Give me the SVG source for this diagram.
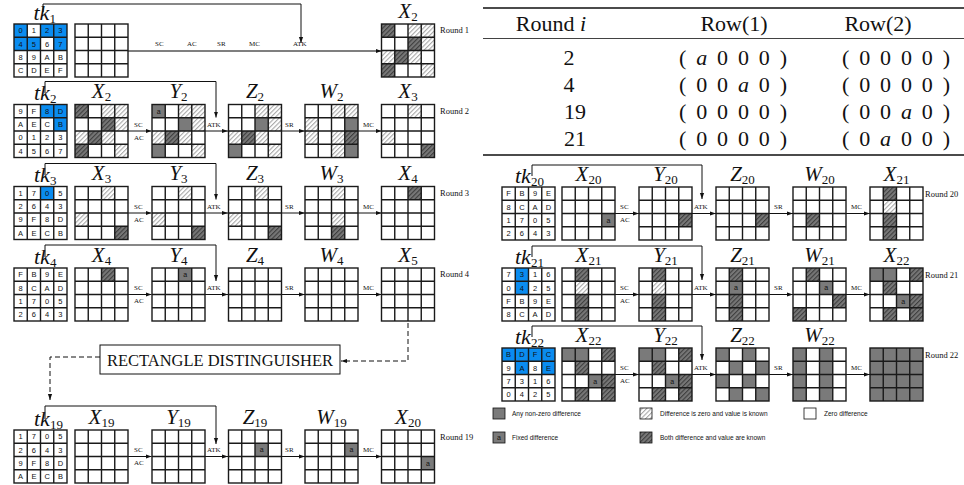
<svg xmlns="http://www.w3.org/2000/svg" xmlns:xlink="http://www.w3.org/1999/xlink" width="964" height="485" viewBox="0 0 964 485">
<defs>
<pattern id="lhp" width="3.2" height="3.2" patternUnits="userSpaceOnUse" patternTransform="rotate(45)"><rect width="3.2" height="3.2" fill="#fff"/><rect width="1.1" height="3.2" fill="#a8a8a8"/></pattern>
<pattern id="dhp" width="3.2" height="3.2" patternUnits="userSpaceOnUse" patternTransform="rotate(45)"><rect width="3.2" height="3.2" fill="#777"/><rect width="1.1" height="3.2" fill="#3e3e3e"/></pattern>
<g id="gr"><rect width="53" height="53"/><path d="M13.25 0V53M26.5 0V53M39.75 0V53M0 13.25H53M0 26.5H53M0 39.75H53"/></g>
<marker id="ah" viewBox="0 0 10 10" refX="10" refY="5" markerWidth="6" markerHeight="6" orient="auto" markerUnits="userSpaceOnUse"><path d="M0,1.5L10,5L0,8.5z" fill="#111"/></marker>
</defs>
<style>
#gr{fill:none;stroke:#1a1a1a;stroke-width:1.4}
.w{fill:#fff}
.g{fill:#7a7a7a}
.lh{fill:url(#lhp)}
.dh{fill:url(#dhp)}
.b{fill:#0a8cf0}
.hx{font-family:'Liberation Sans',sans-serif;font-size:7.5px;text-anchor:middle;fill:#111}
.a{font-family:'Liberation Sans',sans-serif;font-size:7px;text-anchor:middle;fill:#111}
.ma{font-family:'Liberation Serif',serif;font-style:italic;font-size:21px;fill:#111}
.tk{font-size:22px}
.sb{font-style:normal;font-size:13px}
.ctr{text-anchor:middle}
.op{font-family:'Liberation Serif',serif;font-size:7px;fill:#111}
.rd{font-family:'Liberation Serif',serif;font-size:8.5px;fill:#111}
.ln{fill:none;stroke:#111;stroke-width:1}
.dl{fill:none;stroke:#111;stroke-width:1;stroke-dasharray:5 3}
.tb{font-family:'Liberation Serif',serif;font-size:22px;fill:#111}
.lg{font-family:'Liberation Sans',sans-serif;font-size:6.5px;fill:#111}
.bx{fill:#fff;stroke:#111;stroke-width:1}
</style>

<!-- connectors -->
<g id="connectors">
<path class="ln" d="M43,12V4H301V43" marker-end="url(#ah)"/>
<path d="M128,51H381.5" fill="none" stroke="#555" stroke-width="1.6" marker-end="url(#ah)"/>
<g class="op"><text x="155" y="46">SC</text><text x="187" y="46">AC</text><text x="217" y="46">SR</text><text x="249" y="46">MC</text><text x="293" y="46">ATK</text></g>

<path class="ln" d="M45,93V81.5H216V117.5" marker-end="url(#ah)"/>
<path class="ln" d="M128,131H151.5" marker-end="url(#ah)"/>
<path class="ln" d="M205,131H228" marker-end="url(#ah)"/>
<path class="ln" d="M281.5,131H305" marker-end="url(#ah)"/>
<path class="ln" d="M358,131H381.5" marker-end="url(#ah)"/>
<g class="op"><text x="134" y="127">SC</text><text x="134" y="140">AC</text><text x="207" y="127">ATK</text><text x="285" y="127">SR</text><text x="363" y="127">MC</text></g>

<path class="ln" d="M45,175V163.5H216V199.5" marker-end="url(#ah)"/>
<path class="ln" d="M128,213H151.5" marker-end="url(#ah)"/>
<path class="ln" d="M205,213H228" marker-end="url(#ah)"/>
<path class="ln" d="M281.5,213H305" marker-end="url(#ah)"/>
<path class="ln" d="M358,213H381.5" marker-end="url(#ah)"/>
<g class="op"><text x="134" y="209">SC</text><text x="134" y="222">AC</text><text x="207" y="209">ATK</text><text x="285" y="209">SR</text><text x="363" y="209">MC</text></g>

<path class="ln" d="M45,257V245H216V281" marker-end="url(#ah)"/>
<path class="ln" d="M128,294.5H151.5" marker-end="url(#ah)"/>
<path class="ln" d="M205,294.5H228" marker-end="url(#ah)"/>
<path class="ln" d="M281.5,294.5H305" marker-end="url(#ah)"/>
<path class="ln" d="M358,294.5H381.5" marker-end="url(#ah)"/>
<g class="op"><text x="134" y="290">SC</text><text x="134" y="303">AC</text><text x="207" y="290">ATK</text><text x="285" y="290">SR</text><text x="363" y="290">MC</text></g>

<path class="dl" d="M408,323V361H341" marker-end="url(#ah)"/>
<path class="dl" d="M100,357H50V400" marker-end="url(#ah)"/>

<path class="ln" d="M45,419V406H216V444" marker-end="url(#ah)"/>
<path class="ln" d="M128,456.5H151.5" marker-end="url(#ah)"/>
<path class="ln" d="M205,456.5H228" marker-end="url(#ah)"/>
<path class="ln" d="M281.5,456.5H305" marker-end="url(#ah)"/>
<path class="ln" d="M358,456.5H381.5" marker-end="url(#ah)"/>
<g class="op"><text x="134" y="452">SC</text><text x="134" y="465">AC</text><text x="207" y="452">ATK</text><text x="285" y="452">SR</text><text x="363" y="452">MC</text></g>

<path class="ln" d="M532,176V165H702V199" marker-end="url(#ah)"/>
<path class="ln" d="M615,213.5H639" marker-end="url(#ah)"/>
<path class="ln" d="M692,213.5H716" marker-end="url(#ah)"/>
<path class="ln" d="M769,213.5H793" marker-end="url(#ah)"/>
<path class="ln" d="M846,213.5H870" marker-end="url(#ah)"/>
<g class="op"><text x="620" y="209">SC</text><text x="620" y="222">AC</text><text x="694" y="209">ATK</text><text x="774" y="209">SR</text><text x="851" y="209">MC</text></g>

<path class="ln" d="M532,257V246H702V280" marker-end="url(#ah)"/>
<path class="ln" d="M615,294.5H639" marker-end="url(#ah)"/>
<path class="ln" d="M692,294.5H716" marker-end="url(#ah)"/>
<path class="ln" d="M769,294.5H793" marker-end="url(#ah)"/>
<path class="ln" d="M846,294.5H870" marker-end="url(#ah)"/>
<g class="op"><text x="620" y="290">SC</text><text x="620" y="303">AC</text><text x="694" y="290">ATK</text><text x="774" y="290">SR</text><text x="851" y="290">MC</text></g>

<path class="ln" d="M532,337V326H702V360" marker-end="url(#ah)"/>
<path class="ln" d="M615,374.5H639" marker-end="url(#ah)"/>
<path class="ln" d="M692,374.5H716" marker-end="url(#ah)"/>
<path class="ln" d="M769,374.5H793" marker-end="url(#ah)"/>
<path class="ln" d="M846,374.5H870" marker-end="url(#ah)"/>
<g class="op"><text x="620" y="370">SC</text><text x="620" y="383">AC</text><text x="694" y="370">ATK</text><text x="774" y="370">SR</text><text x="851" y="370">MC</text></g>
</g>

<!-- round labels -->
<g class="rd">
<text x="440" y="33">Round 1</text><text x="440" y="114">Round 2</text><text x="440" y="196">Round 3</text><text x="440" y="277">Round 4</text><text x="440" y="440">Round 19</text>
<text x="925" y="197">Round 20</text><text x="925" y="278">Round 21</text><text x="925" y="358">Round 22</text>
</g>

<!-- math labels -->
<g class="ma">
<text x="33.5" y="20" class="tk">tk<tspan class="sb" dy="3">1</tspan></text>
<text x="408" y="18" class="ctr">X<tspan class="sb" dy="3">2</tspan></text>
<text x="34" y="100" class="tk">tk<tspan class="sb" dy="3">2</tspan></text>
<text x="101.5" y="98" class="ctr">X<tspan class="sb" dy="3">2</tspan></text>
<text x="178.5" y="98" class="ctr">Y<tspan class="sb" dy="3">2</tspan></text>
<text x="255" y="98" class="ctr">Z<tspan class="sb" dy="3">2</tspan></text>
<text x="331.5" y="98" class="ctr">W<tspan class="sb" dy="3">2</tspan></text>
<text x="408" y="98" class="ctr">X<tspan class="sb" dy="3">3</tspan></text>
<text x="34" y="182" class="tk">tk<tspan class="sb" dy="3">3</tspan></text>
<text x="101.5" y="180" class="ctr">X<tspan class="sb" dy="3">3</tspan></text>
<text x="178.5" y="180" class="ctr">Y<tspan class="sb" dy="3">3</tspan></text>
<text x="255" y="180" class="ctr">Z<tspan class="sb" dy="3">3</tspan></text>
<text x="331.5" y="180" class="ctr">W<tspan class="sb" dy="3">3</tspan></text>
<text x="408" y="180" class="ctr">X<tspan class="sb" dy="3">4</tspan></text>
<text x="34" y="264" class="tk">tk<tspan class="sb" dy="3">4</tspan></text>
<text x="101.5" y="262" class="ctr">X<tspan class="sb" dy="3">4</tspan></text>
<text x="178.5" y="262" class="ctr">Y<tspan class="sb" dy="3">4</tspan></text>
<text x="255" y="262" class="ctr">Z<tspan class="sb" dy="3">4</tspan></text>
<text x="331.5" y="262" class="ctr">W<tspan class="sb" dy="3">4</tspan></text>
<text x="408" y="262" class="ctr">X<tspan class="sb" dy="3">5</tspan></text>
<text x="34" y="426" class="tk">tk<tspan class="sb" dy="3">19</tspan></text>
<text x="101.5" y="424" class="ctr">X<tspan class="sb" dy="3">19</tspan></text>
<text x="178.5" y="424" class="ctr">Y<tspan class="sb" dy="3">19</tspan></text>
<text x="255" y="424" class="ctr">Z<tspan class="sb" dy="3">19</tspan></text>
<text x="331.5" y="424" class="ctr">W<tspan class="sb" dy="3">19</tspan></text>
<text x="408" y="424" class="ctr">X<tspan class="sb" dy="3">20</tspan></text>
<text x="515" y="183" class="tk">tk<tspan class="sb" dy="3">20</tspan></text>
<text x="588.5" y="181" class="ctr">X<tspan class="sb" dy="3">20</tspan></text>
<text x="665.5" y="181" class="ctr">Y<tspan class="sb" dy="3">20</tspan></text>
<text x="742.5" y="181" class="ctr">Z<tspan class="sb" dy="3">20</tspan></text>
<text x="819.5" y="181" class="ctr">W<tspan class="sb" dy="3">20</tspan></text>
<text x="896.5" y="181" class="ctr">X<tspan class="sb" dy="3">21</tspan></text>
<text x="515" y="264" class="tk">tk<tspan class="sb" dy="3">21</tspan></text>
<text x="588.5" y="262" class="ctr">X<tspan class="sb" dy="3">21</tspan></text>
<text x="665.5" y="262" class="ctr">Y<tspan class="sb" dy="3">21</tspan></text>
<text x="742.5" y="262" class="ctr">Z<tspan class="sb" dy="3">21</tspan></text>
<text x="819.5" y="262" class="ctr">W<tspan class="sb" dy="3">21</tspan></text>
<text x="896.5" y="262" class="ctr">X<tspan class="sb" dy="3">22</tspan></text>
<text x="515" y="344" class="tk">tk<tspan class="sb" dy="3">22</tspan></text>
<text x="588.5" y="342" class="ctr">X<tspan class="sb" dy="3">22</tspan></text>
<text x="665.5" y="342" class="ctr">Y<tspan class="sb" dy="3">22</tspan></text>
<text x="742.5" y="342" class="ctr">Z<tspan class="sb" dy="3">22</tspan></text>
<text x="819.5" y="342" class="ctr">W<tspan class="sb" dy="3">22</tspan></text>
</g>

<!-- distinguisher -->
<g id="distinguisher">
<rect class="bx" x="100" y="345" width="240" height="29"/>
<text x="220" y="366" class="ctr" font-family="Liberation Serif, serif" font-size="16" fill="#111" textLength="226" lengthAdjust="spacingAndGlyphs">RECTANGLE DISTINGUISHER</text>
</g>

<!-- Round 1 -->
<g id="tk1" transform="translate(14,24)">
<rect class="b" x="0" y="0" width="13.25" height="13.25"/><rect class="b" x="26.5" y="0" width="13.25" height="13.25"/><rect class="b" x="39.75" y="0" width="13.25" height="13.25"/>
<rect class="b" x="0" y="13.25" width="13.25" height="13.25"/><rect class="b" x="13.25" y="13.25" width="13.25" height="13.25"/><rect class="b" x="39.75" y="13.25" width="13.25" height="13.25"/>
<use xlink:href="#gr"/>
<text class="hx" x="6.6 19.9 33.1 46.4" y="9.4">0123</text><text class="hx" x="6.6 19.9 33.1 46.4" y="22.6">4567</text><text class="hx" x="6.6 19.9 33.1 46.4" y="35.9">89AB</text><text class="hx" x="6.6 19.9 33.1 46.4" y="49.1">CDEF</text>
</g>
<g id="p1" transform="translate(75,24)"><use xlink:href="#gr"/></g>
<g id="x2a" transform="translate(381.5,24)">
<rect class="dh" x="0" y="0" width="13.25" height="13.25"/><rect class="lh" x="26.5" y="0" width="13.25" height="13.25"/><rect class="lh" x="39.75" y="0" width="13.25" height="13.25"/>
<rect class="dh" x="26.5" y="13.25" width="13.25" height="13.25"/><rect class="lh" x="39.75" y="13.25" width="13.25" height="13.25"/>
<rect class="lh" x="0" y="26.5" width="13.25" height="13.25"/><rect class="dh" x="13.25" y="26.5" width="13.25" height="13.25"/><rect class="lh" x="26.5" y="26.5" width="13.25" height="13.25"/>
<rect class="dh" x="0" y="39.75" width="13.25" height="13.25"/><rect class="lh" x="39.75" y="39.75" width="13.25" height="13.25"/>
<use xlink:href="#gr"/></g>

<!-- Round 2 -->
<g id="tk2" transform="translate(14,104.5)">
<rect class="b" x="26.5" y="0" width="13.25" height="13.25"/><rect class="b" x="39.75" y="0" width="13.25" height="13.25"/><rect class="b" x="39.75" y="13.25" width="13.25" height="13.25"/>
<use xlink:href="#gr"/>
<text class="hx" x="6.6 19.9 33.1 46.4" y="9.4">9F8D</text><text class="hx" x="6.6 19.9 33.1 46.4" y="22.6">AECB</text><text class="hx" x="6.6 19.9 33.1 46.4" y="35.9">0123</text><text class="hx" x="6.6 19.9 33.1 46.4" y="49.1">4567</text>
</g>
<g id="x2" transform="translate(75,104.5)">
<rect class="dh" x="0" y="0" width="13.25" height="13.25"/><rect class="lh" x="26.5" y="0" width="13.25" height="13.25"/><rect class="lh" x="39.75" y="0" width="13.25" height="13.25"/>
<rect class="dh" x="26.5" y="13.25" width="13.25" height="13.25"/><rect class="lh" x="39.75" y="13.25" width="13.25" height="13.25"/>
<rect class="lh" x="0" y="26.5" width="13.25" height="13.25"/><rect class="dh" x="13.25" y="26.5" width="13.25" height="13.25"/><rect class="lh" x="26.5" y="26.5" width="13.25" height="13.25"/>
<rect class="dh" x="0" y="39.75" width="13.25" height="13.25"/><rect class="lh" x="39.75" y="39.75" width="13.25" height="13.25"/>
<use xlink:href="#gr"/></g>
<g id="y2" transform="translate(152,104.5)">
<rect class="g" x="0" y="0" width="13.25" height="13.25"/><rect class="lh" x="26.5" y="0" width="13.25" height="13.25"/><rect class="lh" x="39.75" y="0" width="13.25" height="13.25"/>
<rect class="g" x="26.5" y="13.25" width="13.25" height="13.25"/><rect class="lh" x="39.75" y="13.25" width="13.25" height="13.25"/>
<rect class="lh" x="0" y="26.5" width="13.25" height="13.25"/><rect class="dh" x="13.25" y="26.5" width="13.25" height="13.25"/><rect class="lh" x="26.5" y="26.5" width="13.25" height="13.25"/>
<rect class="g" x="0" y="39.75" width="13.25" height="13.25"/><rect class="lh" x="39.75" y="39.75" width="13.25" height="13.25"/>
<use xlink:href="#gr"/><text class="a" x="6.6" y="9.2">a</text></g>
<g id="z2" transform="translate(228.5,104.5)">
<rect class="lh" x="26.5" y="0" width="13.25" height="13.25"/><rect class="lh" x="39.75" y="0" width="13.25" height="13.25"/>
<rect class="g" x="26.5" y="13.25" width="13.25" height="13.25"/><rect class="lh" x="39.75" y="13.25" width="13.25" height="13.25"/>
<rect class="lh" x="0" y="26.5" width="13.25" height="13.25"/><rect class="dh" x="13.25" y="26.5" width="13.25" height="13.25"/><rect class="lh" x="26.5" y="26.5" width="13.25" height="13.25"/>
<rect class="g" x="0" y="39.75" width="13.25" height="13.25"/><rect class="lh" x="39.75" y="39.75" width="13.25" height="13.25"/>
<use xlink:href="#gr"/></g>
<g id="w2" transform="translate(305,104.5)">
<rect class="lh" x="26.5" y="0" width="13.25" height="13.25"/><rect class="lh" x="39.75" y="0" width="13.25" height="13.25"/>
<rect class="lh" x="0" y="13.25" width="13.25" height="13.25"/><rect class="g" x="39.75" y="13.25" width="13.25" height="13.25"/>
<rect class="lh" x="0" y="26.5" width="13.25" height="13.25"/><rect class="lh" x="26.5" y="26.5" width="13.25" height="13.25"/><rect class="dh" x="39.75" y="26.5" width="13.25" height="13.25"/>
<rect class="lh" x="26.5" y="39.75" width="13.25" height="13.25"/><rect class="g" x="39.75" y="39.75" width="13.25" height="13.25"/>
<use xlink:href="#gr"/></g>
<g id="x3a" transform="translate(381.5,104.5)">
<rect class="lh" x="26.5" y="0" width="13.25" height="13.25"/><rect class="lh" x="0" y="26.5" width="13.25" height="13.25"/><rect class="dh" x="39.75" y="39.75" width="13.25" height="13.25"/>
<use xlink:href="#gr"/></g>

<!-- Round 3 -->
<g id="tk3" transform="translate(14,186.5)">
<rect class="b" x="26.5" y="0" width="13.25" height="13.25"/>
<use xlink:href="#gr"/>
<text class="hx" x="6.6 19.9 33.1 46.4" y="9.4">1705</text><text class="hx" x="6.6 19.9 33.1 46.4" y="22.6">2643</text><text class="hx" x="6.6 19.9 33.1 46.4" y="35.9">9F8D</text><text class="hx" x="6.6 19.9 33.1 46.4" y="49.1">AECB</text>
</g>
<g id="x3" transform="translate(75,186.5)">
<rect class="lh" x="26.5" y="0" width="13.25" height="13.25"/><rect class="lh" x="0" y="26.5" width="13.25" height="13.25"/><rect class="dh" x="39.75" y="39.75" width="13.25" height="13.25"/>
<use xlink:href="#gr"/></g>
<g id="y3" transform="translate(152,186.5)">
<rect class="lh" x="26.5" y="0" width="13.25" height="13.25"/><rect class="lh" x="0" y="26.5" width="13.25" height="13.25"/><rect class="dh" x="39.75" y="39.75" width="13.25" height="13.25"/>
<use xlink:href="#gr"/></g>
<g id="z3" transform="translate(228.5,186.5)">
<rect class="lh" x="26.5" y="0" width="13.25" height="13.25"/><rect class="lh" x="0" y="26.5" width="13.25" height="13.25"/><rect class="dh" x="39.75" y="39.75" width="13.25" height="13.25"/>
<use xlink:href="#gr"/></g>
<g id="w3" transform="translate(305,186.5)">
<rect class="lh" x="26.5" y="0" width="13.25" height="13.25"/><rect class="lh" x="26.5" y="26.5" width="13.25" height="13.25"/><rect class="dh" x="26.5" y="39.75" width="13.25" height="13.25"/>
<use xlink:href="#gr"/></g>
<g id="x4a" transform="translate(381.5,186.5)">
<rect class="dh" x="26.5" y="0" width="13.25" height="13.25"/>
<use xlink:href="#gr"/></g>

<!-- Round 4 -->
<g id="tk4" transform="translate(14,268)">
<use xlink:href="#gr"/>
<text class="hx" x="6.6 19.9 33.1 46.4" y="9.4">FB9E</text><text class="hx" x="6.6 19.9 33.1 46.4" y="22.6">8CAD</text><text class="hx" x="6.6 19.9 33.1 46.4" y="35.9">1705</text><text class="hx" x="6.6 19.9 33.1 46.4" y="49.1">2643</text>
</g>
<g id="x4" transform="translate(75,268)"><rect class="dh" x="26.5" y="0" width="13.25" height="13.25"/><use xlink:href="#gr"/></g>
<g id="y4" transform="translate(152,268)"><rect class="g" x="26.5" y="0" width="13.25" height="13.25"/><use xlink:href="#gr"/><text class="a" x="33.1" y="9.2">a</text></g>
<g id="z4" transform="translate(228.5,268)"><use xlink:href="#gr"/></g>
<g id="w4" transform="translate(305,268)"><use xlink:href="#gr"/></g>
<g id="x5" transform="translate(381.5,268)"><use xlink:href="#gr"/></g>

<!-- Round 19 -->
<g id="tk19" transform="translate(14,430)">
<use xlink:href="#gr"/>
<text class="hx" x="6.6 19.9 33.1 46.4" y="9.4">1705</text><text class="hx" x="6.6 19.9 33.1 46.4" y="22.6">2643</text><text class="hx" x="6.6 19.9 33.1 46.4" y="35.9">9F8D</text><text class="hx" x="6.6 19.9 33.1 46.4" y="49.1">AECB</text>
</g>
<g id="x19" transform="translate(75,430)"><use xlink:href="#gr"/></g>
<g id="y19" transform="translate(152,430)"><use xlink:href="#gr"/></g>
<g id="z19" transform="translate(228.5,430)"><rect class="g" x="26.5" y="13.25" width="13.25" height="13.25"/><use xlink:href="#gr"/><text class="a" x="33.1" y="22.4">a</text></g>
<g id="w19" transform="translate(305,430)"><rect class="g" x="39.75" y="13.25" width="13.25" height="13.25"/><use xlink:href="#gr"/><text class="a" x="46.4" y="22.4">a</text></g>
<g id="x20a" transform="translate(381.5,430)"><rect class="g" x="39.75" y="26.5" width="13.25" height="13.25"/><use xlink:href="#gr"/><text class="a" x="46.4" y="35.7">a</text></g>

<!-- Table -->
<g id="table">
<path d="M483,8H964M483,155H964" stroke="#111" stroke-width="1.4"/>
<path d="M483,38.5H964" stroke="#111" stroke-width="0.8"/>
<g class="tb">
<text x="551" y="31" class="ctr">Round <tspan font-style="italic">i</tspan></text>
<text x="734" y="31" class="ctr">Row(1)</text>
<text x="878" y="31" class="ctr">Row(2)</text>
<text x="569" y="65" class="ctr">2</text><text x="569" y="92" class="ctr">4</text><text x="575" y="119" class="ctr">19</text><text x="575" y="146" class="ctr">21</text>
<text x="679" y="65" textLength="108" lengthAdjust="spacing">( <tspan font-style="italic">a</tspan> 0 0 0 )</text>
<text x="679" y="92" textLength="108" lengthAdjust="spacing">( 0 0 <tspan font-style="italic">a</tspan> 0 )</text>
<text x="679" y="119" textLength="108" lengthAdjust="spacing">( 0 0 0 0 )</text>
<text x="679" y="146" textLength="108" lengthAdjust="spacing">( 0 0 0 0 )</text>
<text x="842" y="65" textLength="108" lengthAdjust="spacing">( 0 0 0 0 )</text>
<text x="842" y="92" textLength="108" lengthAdjust="spacing">( 0 0 0 0 )</text>
<text x="842" y="119" textLength="108" lengthAdjust="spacing">( 0 0 <tspan font-style="italic">a</tspan> 0 )</text>
<text x="842" y="146" textLength="108" lengthAdjust="spacing">( 0 <tspan font-style="italic">a</tspan> 0 0 )</text>
</g>
</g>

<!-- Round 20 -->
<g id="tk20" transform="translate(502,187)">
<use xlink:href="#gr"/>
<text class="hx" x="6.6 19.9 33.1 46.4" y="9.4">FB9E</text><text class="hx" x="6.6 19.9 33.1 46.4" y="22.6">8CAD</text><text class="hx" x="6.6 19.9 33.1 46.4" y="35.9">1705</text><text class="hx" x="6.6 19.9 33.1 46.4" y="49.1">2643</text>
</g>
<g id="x20" transform="translate(562,187)"><rect class="g" x="39.75" y="26.5" width="13.25" height="13.25"/><use xlink:href="#gr"/><text class="a" x="46.4" y="35.7">a</text></g>
<g id="y20" transform="translate(639,187)"><rect class="dh" x="39.75" y="26.5" width="13.25" height="13.25"/><use xlink:href="#gr"/></g>
<g id="z20" transform="translate(716,187)"><rect class="dh" x="39.75" y="26.5" width="13.25" height="13.25"/><use xlink:href="#gr"/></g>
<g id="w20" transform="translate(793,187)"><rect class="dh" x="13.25" y="26.5" width="13.25" height="13.25"/><use xlink:href="#gr"/></g>
<g id="x21a" transform="translate(870,187)"><rect class="dh" x="13.25" y="0" width="13.25" height="13.25"/><rect class="lh" x="13.25" y="13.25" width="13.25" height="13.25"/><rect class="dh" x="13.25" y="26.5" width="13.25" height="13.25"/><rect class="dh" x="13.25" y="39.75" width="13.25" height="13.25"/><use xlink:href="#gr"/></g>

<!-- Round 21 -->
<g id="tk21" transform="translate(502,268)">
<rect class="b" x="13.25" y="0" width="13.25" height="13.25"/><rect class="b" x="13.25" y="13.25" width="13.25" height="13.25"/>
<use xlink:href="#gr"/>
<text class="hx" x="6.6 19.9 33.1 46.4" y="9.4">7316</text><text class="hx" x="6.6 19.9 33.1 46.4" y="22.6">0425</text><text class="hx" x="6.6 19.9 33.1 46.4" y="35.9">FB9E</text><text class="hx" x="6.6 19.9 33.1 46.4" y="49.1">8CAD</text>
</g>
<g id="x21" transform="translate(562,268)"><rect class="dh" x="13.25" y="0" width="13.25" height="13.25"/><rect class="lh" x="13.25" y="13.25" width="13.25" height="13.25"/><rect class="dh" x="13.25" y="26.5" width="13.25" height="13.25"/><rect class="dh" x="13.25" y="39.75" width="13.25" height="13.25"/><use xlink:href="#gr"/></g>
<g id="y21" transform="translate(639,268)"><rect class="dh" x="13.25" y="0" width="13.25" height="13.25"/><rect class="lh" x="13.25" y="13.25" width="13.25" height="13.25"/><rect class="dh" x="13.25" y="26.5" width="13.25" height="13.25"/><rect class="dh" x="13.25" y="39.75" width="13.25" height="13.25"/><use xlink:href="#gr"/></g>
<g id="z21" transform="translate(716,268)"><rect class="dh" x="13.25" y="0" width="13.25" height="13.25"/><rect class="g" x="13.25" y="13.25" width="13.25" height="13.25"/><rect class="dh" x="13.25" y="26.5" width="13.25" height="13.25"/><rect class="dh" x="13.25" y="39.75" width="13.25" height="13.25"/><use xlink:href="#gr"/><text class="a" x="19.9" y="22.4">a</text></g>
<g id="w21" transform="translate(793,268)"><rect class="dh" x="13.25" y="0" width="13.25" height="13.25"/><rect class="g" x="26.5" y="13.25" width="13.25" height="13.25"/><rect class="dh" x="39.75" y="26.5" width="13.25" height="13.25"/><rect class="dh" x="0" y="39.75" width="13.25" height="13.25"/><use xlink:href="#gr"/><text class="a" x="33.1" y="22.4">a</text></g>
<g id="x22a" transform="translate(870,268)"><rect class="g" x="0" y="0" width="13.25" height="13.25"/><rect class="g" x="13.25" y="0" width="13.25" height="13.25"/><rect class="dh" x="39.75" y="0" width="13.25" height="13.25"/><rect class="dh" x="13.25" y="13.25" width="13.25" height="13.25"/><rect class="g" x="26.5" y="26.5" width="13.25" height="13.25"/><rect class="dh" x="39.75" y="26.5" width="13.25" height="13.25"/><rect class="dh" x="13.25" y="39.75" width="13.25" height="13.25"/><rect class="dh" x="39.75" y="39.75" width="13.25" height="13.25"/><use xlink:href="#gr"/><text class="a" x="33.1" y="35.7">a</text></g>

<!-- Round 22 -->
<g id="tk22" transform="translate(502,348)">
<rect class="b" x="0" y="0" width="53" height="13.25"/><rect class="b" x="13.25" y="13.25" width="13.25" height="13.25"/><rect class="b" x="39.75" y="13.25" width="13.25" height="13.25"/>
<use xlink:href="#gr"/>
<text class="hx" x="6.6 19.9 33.1 46.4" y="9.4">BDFC</text><text class="hx" x="6.6 19.9 33.1 46.4" y="22.6">9A8E</text><text class="hx" x="6.6 19.9 33.1 46.4" y="35.9">7316</text><text class="hx" x="6.6 19.9 33.1 46.4" y="49.1">0425</text>
</g>
<g id="x22" transform="translate(562,348)"><rect class="g" x="0" y="0" width="13.25" height="13.25"/><rect class="g" x="13.25" y="0" width="13.25" height="13.25"/><rect class="dh" x="39.75" y="0" width="13.25" height="13.25"/><rect class="dh" x="13.25" y="13.25" width="13.25" height="13.25"/><rect class="g" x="26.5" y="26.5" width="13.25" height="13.25"/><rect class="dh" x="39.75" y="26.5" width="13.25" height="13.25"/><rect class="dh" x="13.25" y="39.75" width="13.25" height="13.25"/><rect class="dh" x="39.75" y="39.75" width="13.25" height="13.25"/><use xlink:href="#gr"/><text class="a" x="33.1" y="35.7">a</text></g>
<g id="y22" transform="translate(639,348)"><rect class="g" x="0" y="0" width="13.25" height="13.25"/><rect class="g" x="13.25" y="0" width="13.25" height="13.25"/><rect class="dh" x="39.75" y="0" width="13.25" height="13.25"/><rect class="dh" x="13.25" y="13.25" width="13.25" height="13.25"/><rect class="g" x="26.5" y="26.5" width="13.25" height="13.25"/><rect class="dh" x="39.75" y="26.5" width="13.25" height="13.25"/><rect class="dh" x="13.25" y="39.75" width="13.25" height="13.25"/><rect class="dh" x="39.75" y="39.75" width="13.25" height="13.25"/><use xlink:href="#gr"/><text class="a" x="33.1" y="35.7">a</text></g>
<g id="z22" transform="translate(716,348)"><rect class="g" x="0" y="0" width="13.25" height="13.25"/><rect class="g" x="26.5" y="0" width="13.25" height="13.25"/><rect class="g" x="13.25" y="13.25" width="13.25" height="13.25"/><rect class="g" x="39.75" y="13.25" width="13.25" height="13.25"/><rect class="g" x="0" y="26.5" width="13.25" height="13.25"/><rect class="g" x="26.5" y="26.5" width="13.25" height="13.25"/><rect class="g" x="13.25" y="39.75" width="13.25" height="13.25"/><rect class="g" x="39.75" y="39.75" width="13.25" height="13.25"/><use xlink:href="#gr"/></g>
<g id="w22" transform="translate(793,348)"><rect class="g" x="0" y="0" width="13.25" height="13.25"/><rect class="g" x="26.5" y="0" width="13.25" height="13.25"/><rect class="g" x="0" y="13.25" width="13.25" height="13.25"/><rect class="g" x="26.5" y="13.25" width="13.25" height="13.25"/><rect class="g" x="0" y="26.5" width="13.25" height="13.25"/><rect class="g" x="26.5" y="26.5" width="13.25" height="13.25"/><rect class="g" x="0" y="39.75" width="13.25" height="13.25"/><rect class="g" x="26.5" y="39.75" width="13.25" height="13.25"/><use xlink:href="#gr"/></g>
<g id="x23" transform="translate(870,348)"><rect class="g" x="0" y="0" width="53" height="53"/><use xlink:href="#gr"/></g>

<!-- Legend -->
<g id="legend">
<rect class="g" x="493" y="408" width="12" height="11" stroke="#111" stroke-width="0.8"/>
<text class="lg" x="512" y="416">Any non-zero difference</text>
<rect class="lh" x="640" y="408" width="12" height="11" stroke="#111" stroke-width="0.8"/>
<text class="lg" x="660" y="416">Difference is zero and value is known</text>
<rect class="w" x="804" y="408" width="12" height="11" stroke="#111" stroke-width="0.8"/>
<text class="lg" x="824" y="416">Zero difference</text>
<rect class="g" x="493" y="432" width="12" height="11" stroke="#111" stroke-width="0.8"/>
<text class="a" x="499" y="440">a</text>
<text class="lg" x="512" y="440">Fixed difference</text>
<rect class="dh" x="640" y="432" width="12" height="11" stroke="#111" stroke-width="0.8"/>
<text class="lg" x="660" y="440">Both difference and value are known</text>
</g>
</svg>
